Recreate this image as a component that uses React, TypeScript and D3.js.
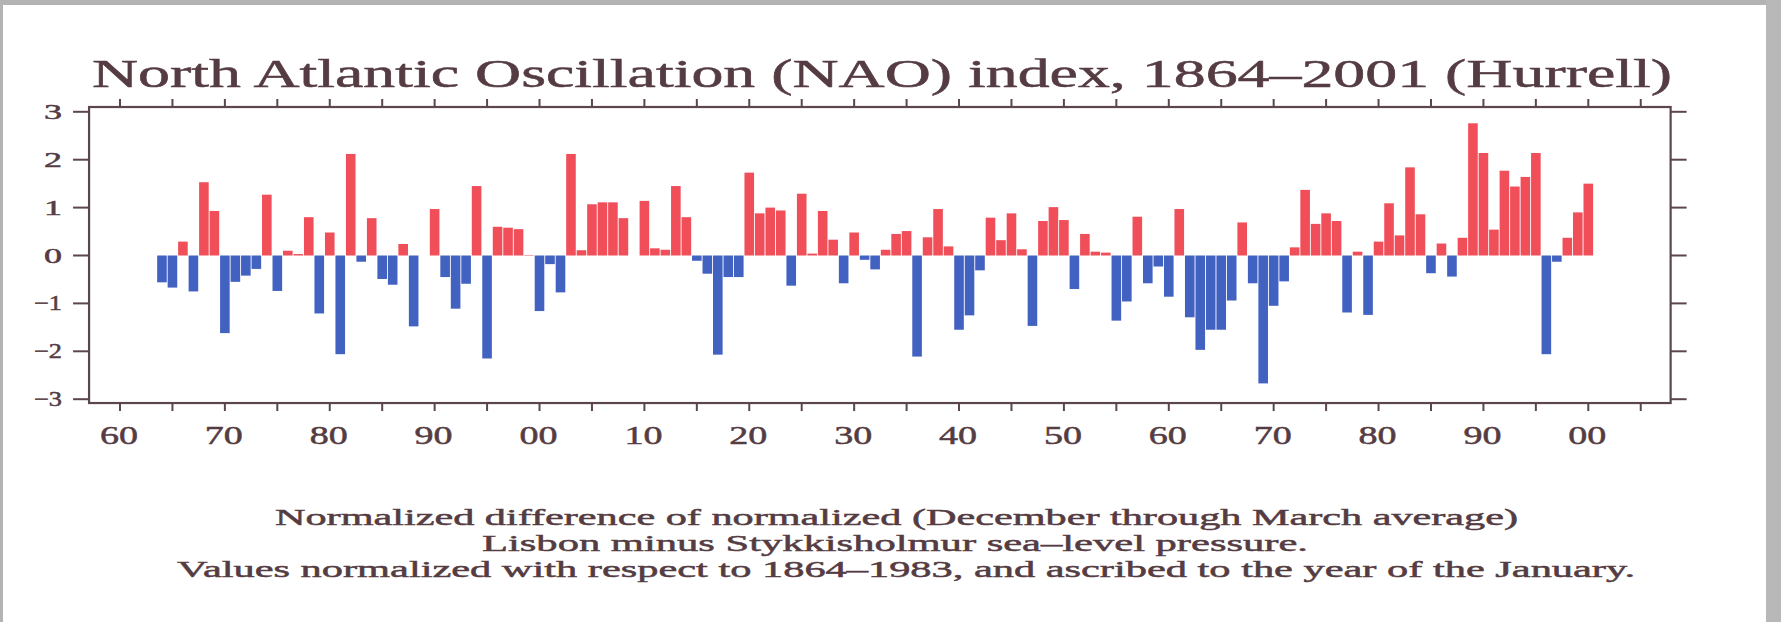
import React from "react";
import * as d3 from "d3";

const startYear = 1864;
const naoValues: number[] = [
  -0.56, -0.67, 0.29, -0.75, 1.53, 0.93, -1.62, -0.55, -0.42, -0.28, // 1864-1873
  1.27, -0.74, 0.10, 0.03, 0.80, -1.21, 0.48, -2.06, 2.12, -0.13, // 1874-1883
  0.78, -0.49, -0.61, 0.24, -1.48, 0.00, 0.97, -0.45, -1.11, -0.59, // 1884-1893
  1.45, -2.15, 0.60, 0.58, 0.55, 0.01, -1.16, -0.18, -0.77, 2.12, // 1894-1903
  0.11, 1.07, 1.11, 1.11, 0.78, 0.00, 1.14, 0.15, 0.12, 1.45, // 1904-1913
  0.80, -0.11, -0.38, -2.07, -0.45, -0.45, 1.73, 0.88, 1.00, 0.94, // 1914-1923
  -0.63, 1.29, 0.04, 0.93, 0.33, -0.58, 0.48, -0.09, -0.29, 0.12, // 1924-1933
  0.45, 0.51, -2.11, 0.38, 0.97, 0.19, -1.55, -1.25, -0.31, 0.79, // 1934-1943
  0.32, 0.88, 0.13, -1.47, 0.72, 1.01, 0.74, -0.70, 0.45, 0.08, // 1944-1953
  0.06, -1.36, -0.96, 0.81, -0.58, -0.23, -0.86, 0.97, -1.29, -1.97, // 1954-1963
  -1.55, -1.55, -0.94, 0.69, -0.58, -2.67, -1.05, -0.54, 0.17, 1.37, // 1964-1973
  0.66, 0.88, 0.72, -1.19, 0.08, -1.24, 0.29, 1.09, 0.42, 1.84, // 1974-1983
  0.86, -0.37, 0.25, -0.44, 0.37, 2.76, 2.14, 0.54, 1.77, 1.44, // 1984-1993
  1.64, 2.14, -2.06, -0.13, 0.37, 0.90, 1.50, // 1994-2000
];
const years: number[] = naoValues.map((_, i) => startYear + i);

const yTickValues: number[] = [-3, -2, -1, 0, 1, 2, 3];
const yTickLabels: string[] = ["\u22123", "\u22122", "\u22121", "0", "1", "2", "3"];
const xMinorTicks: number[] = d3.range(1860, 2006, 5);
const xLabelYears: number[] = d3.range(1860, 2001, 10);
const xLabels: string[] = ["60", "70", "80", "90", "00", "10", "20", "30", "40", "50", "60", "70", "80", "90", "00"];

const title = "North Atlantic Oscillation (NAO) index, 1864\u20132001 (Hurrell)";
const captionLines: string[] = [
  "Normalized difference of normalized (December through March average)",
  "Lisbon minus Stykkisholmur sea\u2013level pressure.",
  "Values normalized with respect to 1864\u20131983, and ascribed to the year of the January.",
];

const W = 1781;
const H = 622;
const FONT = "'Liberation Serif', 'Times New Roman', serif";
const TEXT = "#553c42";
const AXIS = "#5a464b";
const RED = "#f04f5a";
const BLUE = "#4262c2";

export default function App() {
  const x = d3.scaleLinear().domain([1860, 2000]).range([120, 1588.3]);
  const y = d3.scaleLinear().domain([-3, 3]).range([399.2, 111.8]);
  const frameL = x(1857.05);
  const frameR = x(2007.85);
  const frameT = y(3.1);
  const frameB = y(-3.08);
  const barW = 9.6;

  const capStarts = [275, 482, 177];
  const capLens = [1243, 826, 1458];
  const capBase = [525, 551, 577];

  const textStroke = { stroke: TEXT, strokeWidth: 0.5 };

  return (
    <svg
      width={W}
      height={H}
      style={{ position: "absolute", left: 0, top: 0, background: "#fff" }}
      fontFamily={FONT}
    >
      <rect x={0} y={0} width={W} height={H} fill="#fff" />
      <rect x={0} y={0} width={W} height={5} fill="#b3b3b3" />
      <rect x={0} y={0} width={3} height={H} fill="#b3b3b3" />
      <rect x={1766} y={0} width={W - 1766} height={H} fill="#b8b8b8" />

      {/* title */}
      <text x={92} y={87} fontSize={39} fill={TEXT} {...textStroke} textLength={1580} lengthAdjust="spacingAndGlyphs">
        {title}
      </text>

      {/* bars */}
      {naoValues.map((v, i) => {
        const yr = years[i];
        const y0 = y(0);
        const y1 = y(v);
        return (
          <rect
            key={yr}
            x={x(yr) - barW / 2}
            y={Math.min(y0, y1)}
            width={barW}
            height={Math.abs(y1 - y0)}
            fill={v >= 0 ? RED : BLUE}
          />
        );
      })}

      {/* frame */}
      <rect
        x={frameL}
        y={frameT}
        width={frameR - frameL}
        height={frameB - frameT}
        fill="none"
        stroke={AXIS}
        strokeWidth={2.2}
      />

      {/* x ticks top and bottom */}
      {xMinorTicks.map((t) => (
        <g key={t}>
          <line x1={x(t)} x2={x(t)} y1={frameT} y2={frameT - 8} stroke={AXIS} strokeWidth={2} />
          <line x1={x(t)} x2={x(t)} y1={frameB} y2={frameB + 8} stroke={AXIS} strokeWidth={2} />
        </g>
      ))}

      {/* y ticks left and right */}
      {yTickValues.map((t) => (
        <g key={t}>
          <line x1={frameL} x2={frameL - 16} y1={y(t)} y2={y(t)} stroke={AXIS} strokeWidth={2} />
          <line x1={frameR} x2={frameR + 16} y1={y(t)} y2={y(t)} stroke={AXIS} strokeWidth={2} />
        </g>
      ))}

      {/* y labels */}
      {yTickValues.map((t, i) => (
        <text
          key={t}
          x={62}
          y={y(t) + 7}
          fontSize={21}
          fill={TEXT}
          {...textStroke}
          textAnchor="end"
          textLength={t < 0 ? 28 : 18}
          lengthAdjust="spacingAndGlyphs"
        >
          {yTickLabels[i]}
        </text>
      ))}

      {/* x labels */}
      {xLabelYears.map((yr, i) => (
        <text
          key={yr}
          x={x(yr) - 1}
          y={444}
          fontSize={26}
          fill={TEXT}
          {...textStroke}
          textAnchor="middle"
          textLength={38}
          lengthAdjust="spacingAndGlyphs"
        >
          {xLabels[i]}
        </text>
      ))}

      {/* caption */}
      {captionLines.map((line, i) => (
        <text
          key={i}
          x={capStarts[i]}
          y={capBase[i]}
          fontSize={24}
          fill={TEXT}
          {...textStroke}
          textLength={capLens[i]}
          lengthAdjust="spacingAndGlyphs"
        >
          {line}
        </text>
      ))}
    </svg>
  );
}
